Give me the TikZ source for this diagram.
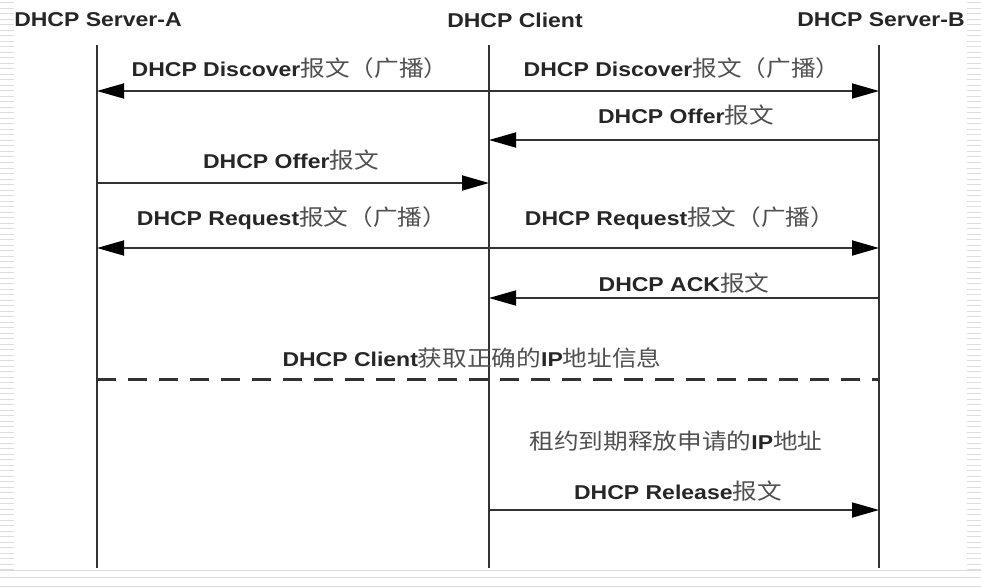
\documentclass[tikz,border=0pt]{standalone}
\usepackage{fontspec}
\setmainfont{Liberation Sans}
\newfontfamily\zhfont[FakeStretch=1.12,Scale=1.1]{Noto Sans CJK SC}
\usetikzlibrary{arrows.meta}
\definecolor{linegray}{HTML}{333333}
\definecolor{zhgray}{HTML}{505050}
\definecolor{stripegray}{HTML}{DDDDDD}
\newcommand{\zh}[1]{{\zhfont\mdseries\color{zhgray}#1}}
\begin{document}
\begin{tikzpicture}[
                                x = 1pt,
                                y = -1pt,
                                >={Triangle[length=27pt,width=15pt]},
                                font = \fontsize{20}{24}\addfontfeatures{FakeStretch=1.15}\bfseries
                                ]

                                \tikzstyle{lifeline}=[
                                        draw = linegray,
                                        line width = 1.8pt
                                ]
                                \tikzstyle{msg}=[
                                        draw = linegray,
                                        line width = 1.8pt,
                                        ->,
                                        >={Triangle[length=27pt,width=15pt,color=black]}
                                ]
                                \tikzstyle{label}=[
                                        text = black!85,
                                        inner sep = 1pt
                                ]

                                \useasboundingbox (0,0) rectangle (981,588);
                                \fill[white] (0,0) rectangle (981,588);

                                % page stripes
                                \foreach \y in {3,8.5,...,570} {
                                        \draw[stripegray, line width=1pt] (0,\y) -- (14,\y);
                                        \draw[stripegray, line width=1pt] (967,\y) -- (981,\y);
                                }
                                \foreach \y in {570,577,586}
                                        \draw[stripegray, line width=1pt] (0,\y) -- (981,\y);

                                % titles
                                \node[label] (ta) at (98,20) {DHCP Server-A};
                                \node[label] (tc) at (515,20) {DHCP Client};
                                \node[label] (tb) at (881,20) {DHCP Server-B};

                                % lifelines
                                \coordinate (atop) at (97,45);
                                \coordinate (abot) at (97,568);
                                \coordinate (ctop) at (489,45);
                                \coordinate (cbot) at (489,568);
                                \coordinate (btop) at (879,45);
                                \coordinate (bbot) at (879,568);
                                \draw[lifeline] (atop) -- (abot);
                                \draw[lifeline, line width=1.5pt] (ctop) -- (cbot);
                                \draw[lifeline] (btop) -- (bbot);

                                % message levels
                                \foreach \n/\y in {1/91,2/140,3/183,4/248,5/298,6/379,7/510} {
                                        \coordinate (a\n) at (97,\y);
                                        \coordinate (c\n) at (489,\y);
                                        \coordinate (b\n) at (879,\y);
                                }

                                \draw[msg] (c1) -- (a1);
                                \draw[msg] (c1) -- (b1);
                                \draw[msg] (b2) -- (c2);
                                \draw[msg] (a3) -- (c3);
                                \draw[msg] (c4) -- (a4);
                                \draw[msg] (c4) -- (b4);
                                \draw[msg] (b5) -- (c5);
                                \draw[linegray, line width=3pt, dash pattern=on 19pt off 12pt] (a6) -- (b6);
                                \draw[msg] (c7) -- (b7);

                                \node[label] (l1) at (290,68) {DHCP Discover\zh{报文（广播）}};
                                \node[label] (l2) at (682,68) {DHCP Discover\zh{报文（广播）}};
                                \node[label] (l3) at (686,115) {DHCP Offer\zh{报文}};
                                \node[label] (l4) at (291,160) {DHCP Offer\zh{报文}};
                                \node[label] (l5) at (292,218) {DHCP Request\zh{报文（广播）}};
                                \node[label] (l6) at (680,218) {DHCP Request\zh{报文（广播）}};
                                \node[label] (l7) at (684,283) {DHCP ACK\zh{报文}};
                                \node[label] (l8) at (472,358) {DHCP Client\zh{获取正确的}IP\zh{地址信息}};
                                \node[label] (l9) at (676,441) {\zh{租约到期释放申请的}IP\zh{地址}};
                                \node[label] (l10) at (678,491) {DHCP Release\zh{报文}};
\end{tikzpicture}
\end{document}
